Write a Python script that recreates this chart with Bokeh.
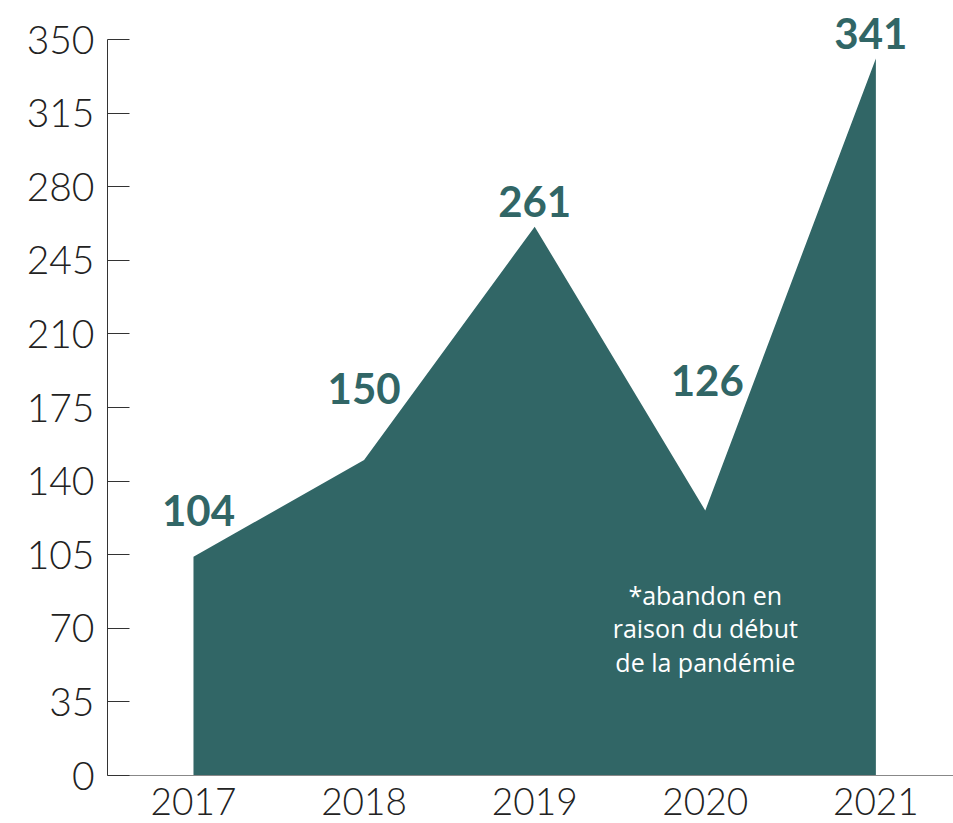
from bokeh.plotting import figure
from bokeh.models import Range1d, FixedTicker, ColumnDataSource, LabelSet
from bokeh.core.properties import value
from bokeh.embed import file_html
from bokeh.resources import INLINE

# ---- data ----
years = ["2017", "2018", "2019", "2020", "2021"]
counts = [104, 150, 261, 126, 341]
y_ticks = [0, 35, 70, 105, 140, 175, 210, 245, 280, 315, 350]
note = "*abandon en\nraison du début\nde la pandémie"
note_year = "2020"

# ---- styles ----
TEAL = "#316666"
label_dx = [5, 0, 0, 2, -5]
label_dy = [46, 72, 25, 130, 25]
LIGHT = "Lato Light, Lato"

xs = list(range(len(years)))

p = figure(width=953, height=823, output_backend="svg", toolbar_location=None,
           x_range=Range1d(-0.504, 4.455), y_range=Range1d(0, 368.55),
           min_border_left=107, min_border_top=0, min_border_bottom=48, min_border_right=0)
p.outline_line_color = None
p.xgrid.visible = False
p.ygrid.visible = False
p.background_fill_color = "white"
p.border_fill_color = "white"

src = ColumnDataSource(dict(x=xs, y=counts, lbl=[str(c) for c in counts],
                            dx=label_dx, dy=label_dy))

p.varea(x=xs, y1=[0] * len(xs), y2=counts, fill_color=TEAL, fill_alpha=1.0)

labels = LabelSet(x="x", y="y", text="lbl", source=src, x_offset="dx", y_offset="dy",
                  text_font=value("Lato"), text_font_style="bold", text_font_size="42px",
                  text_color=TEAL, text_align="center", text_baseline="middle")
p.add_layout(labels)

p.text(x=[years.index(note_year)], y=[70], text=[note],
       text_font=value("Open Sans"), text_font_size="25px", text_color="white",
       text_align="center", text_baseline="middle", text_line_height=0.98)

# y axis
ya = p.yaxis[0]
ya.ticker = FixedTicker(ticks=y_ticks)
ya.bounds = (y_ticks[0], y_ticks[-1])
ya.major_tick_in = 22
ya.major_tick_out = 0
ya.minor_tick_line_color = None
ya.axis_line_color = "#333333"
ya.major_tick_line_color = "#333333"
ya.major_label_text_font = LIGHT
ya.major_label_text_font_size = "39px"
ya.major_label_text_color = "#222222"
ya.major_label_standoff = 13

# x axis
xa = p.xaxis[0]
xa.ticker = FixedTicker(ticks=xs)
xa.major_label_overrides = {i: y for i, y in enumerate(years)}
xa.major_tick_in = 0
xa.major_tick_out = 0
xa.minor_tick_line_color = None
xa.axis_line_color = "#888888"
xa.major_label_text_font = LIGHT
xa.major_label_text_font_size = "37px"
xa.major_label_text_color = "#222222"
xa.major_label_standoff = 12

open("out.html", "w").write(file_html(p, INLINE))
